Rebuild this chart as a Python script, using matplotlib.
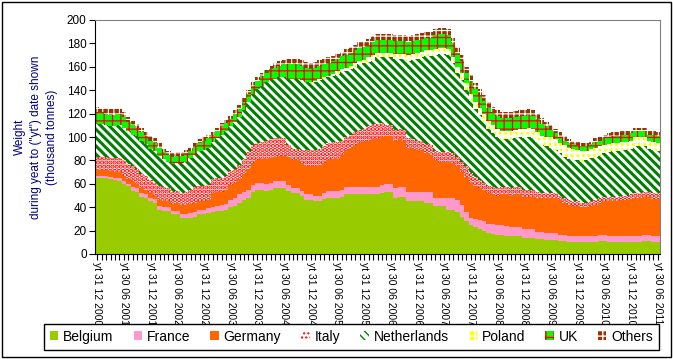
import numpy as np
import matplotlib.pyplot as plt
from matplotlib.patches import Rectangle

plt.rcParams['font.family'] = ['Liberation Sans', 'DejaVu Sans']

# Data: monthly "year to date" weights (thousand tonnes), Dec 2000 - Jun 2011
tick_labels = ['yt 31 12 2000', 'yt 30 06 2001', 'yt 31 12 2001', 'yt 30 06 2002',
               'yt 31 12 2002', 'yt 30 06 2003', 'yt 31 12 2003', 'yt 30 06 2004',
               'yt 31 12 2004', 'yt 30 06 2005', 'yt 31 12 2005', 'yt 30 06 2006',
               'yt 31 12 2006', 'yt 30 06 2007', 'yt 31 12 2007', 'yt 30 06 2008',
               'yt 31 12 2008', 'yt 30 06 2009', 'yt 31 12 2009', 'yt 30 06 2010',
               'yt 31 12 2010', 'yt 30 06 2011']

belgium = [65, 65, 65, 64, 63, 62, 60, 58, 54, 53,
           49, 48, 45, 44, 38, 37, 37, 34, 34, 31,
           31, 31, 32, 34, 34, 35, 36, 37, 37, 38,
           40, 41, 44, 46, 48, 53, 55, 55, 54, 55,
           56, 56, 56, 54, 52, 52, 50, 46, 46, 45,
           45, 47, 48, 48, 48, 49, 51, 51, 51, 51,
           51, 51, 51, 51, 52, 53, 53, 48, 49, 49,
           45, 45, 45, 45, 44, 44, 41, 41, 41, 38,
           38, 36, 32, 28, 25, 23, 21, 20, 18, 17,
           16, 16, 15, 15, 15, 15, 14, 14, 14, 13,
           13, 12, 12, 12, 11, 11, 10, 10, 10, 10,
           10, 10, 10, 11, 11, 10, 10, 10, 10, 10,
           10, 10, 10, 11, 11, 10, 10]
france = [2, 2, 2, 2, 2, 3, 2, 2, 3, 3,
          3, 3, 3, 3, 3, 3, 3, 3, 3, 3,
          3, 4, 4, 4, 4, 4, 4, 4, 5, 5,
          6, 7, 7, 7, 7, 6, 6, 6, 6, 6,
          6, 6, 6, 5, 4, 4, 4, 5, 5, 5,
          5, 5, 6, 6, 6, 6, 6, 6, 6, 6,
          6, 6, 6, 6, 7, 7, 7, 8, 8, 8,
          8, 8, 8, 8, 9, 9, 7, 7, 7, 10,
          10, 10, 10, 8, 6, 7, 8, 8, 8, 9,
          9, 9, 9, 8, 8, 8, 7, 7, 7, 6,
          6, 6, 6, 6, 5, 5, 5, 5, 5, 5,
          5, 5, 5, 5, 5, 5, 5, 5, 5, 5,
          5, 5, 5, 5, 5, 5, 5]
germany = [6, 5, 5, 5, 5, 5, 5, 4, 5, 4,
           4, 4, 4, 3, 5, 5, 5, 6, 7, 8,
           8, 8, 8, 7, 7, 7, 12, 12, 11, 12,
           13, 13, 13, 15, 18, 19, 19, 20, 21, 21,
           21, 22, 22, 24, 24, 24, 24, 24, 24, 25,
           26, 26, 26, 27, 27, 30, 32, 34, 36, 38,
           39, 40, 41, 41, 41, 41, 41, 41, 41, 40,
           38, 37, 36, 36, 33, 32, 32, 31, 31, 31,
           30, 29, 28, 30, 30, 28, 27, 27, 26, 25,
           25, 26, 27, 27, 28, 28, 28, 28, 28, 29,
           29, 30, 30, 30, 30, 28, 27, 26, 26, 25,
           25, 26, 27, 28, 29, 30, 30, 30, 31, 31,
           32, 33, 33, 33, 33, 32, 32]
italy = [10, 11, 11, 11, 12, 12, 13, 13, 13, 13,
         12, 12, 11, 11, 12, 12, 11, 10, 10, 10,
         11, 12, 13, 13, 13, 13, 12, 12, 12, 12,
         12, 12, 12, 13, 14, 15, 15, 15, 16, 16,
         16, 15, 15, 10, 10, 10, 11, 14, 14, 14,
         14, 14, 15, 15, 15, 12, 11, 11, 11, 11,
         11, 12, 13, 13, 12, 9, 9, 9, 9, 9,
         8, 8, 8, 8, 8, 8, 8, 8, 8, 8,
         8, 8, 9, 9, 8, 8, 7, 6, 6, 6,
         6, 6, 6, 6, 6, 6, 6, 6, 6, 5,
         4, 4, 4, 4, 4, 4, 4, 4, 4, 4,
         4, 4, 4, 4, 4, 4, 4, 4, 4, 4,
         4, 4, 4, 4, 4, 5, 5]
netherlands = [28, 28, 27, 27, 27, 28, 28, 28, 27, 28,
               29, 27, 27, 27, 26, 24, 23, 24, 24, 26,
               26, 27, 28, 30, 31, 32, 32, 34, 37, 38,
               38, 40, 41, 42, 43, 44, 46, 48, 50, 51,
               51, 52, 52, 57, 60, 60, 60, 58, 57, 58,
               59, 58, 56, 56, 58, 59, 56, 56, 56, 56,
               56, 55, 55, 57, 56, 58, 58, 61, 60, 61,
               66, 68, 70, 71, 75, 76, 82, 84, 84, 83,
               77, 72, 70, 65, 62, 58, 56, 52, 49, 46,
               44, 41, 41, 42, 42, 43, 44, 45, 44, 43,
               41, 40, 39, 37, 36, 35, 35, 35, 35, 35,
               36, 37, 37, 36, 37, 38, 39, 39, 39, 39,
               39, 40, 40, 39, 37, 37, 36]
poland = [0, 0, 0, 0, 0, 0, 0, 0, 0, 0,
          0, 0, 0, 0, 0, 0, 0, 0, 0, 0,
          0, 0, 0, 0, 0, 0, 0, 0, 0, 0,
          0, 0, 0, 0, 0, 0, 0, 0, 0, 0,
          0, 0, 0, 0, 0, 0, 0, 0, 1, 1,
          1, 1, 1, 2, 2, 2, 3, 3, 3, 3,
          3, 4, 4, 4, 4, 4, 4, 4, 4, 4,
          5, 5, 5, 5, 5, 5, 5, 5, 5, 5,
          5, 5, 6, 6, 6, 6, 6, 7, 7, 7,
          7, 7, 7, 7, 7, 7, 8, 8, 8, 8,
          8, 8, 9, 9, 9, 10, 10, 10, 9, 9,
          8, 8, 8, 8, 7, 7, 7, 7, 7, 7,
          7, 8, 8, 8, 7, 7, 7]
uk = [10, 10, 10, 10, 10, 10, 9, 8, 8, 7,
      7, 7, 7, 7, 7, 6, 6, 6, 6, 6,
      7, 6, 7, 7, 8, 8, 6, 6, 7, 7,
      6, 7, 7, 7, 7, 7, 7, 8, 8, 9,
      9, 10, 11, 12, 12, 12, 12, 12, 11, 11,
      11, 11, 11, 11, 11, 11, 11, 11, 11, 11,
      11, 11, 11, 11, 11, 11, 11, 11, 11, 11,
      11, 11, 11, 11, 11, 11, 12, 12, 12, 12,
      12, 12, 10, 9, 11, 11, 11, 11, 11, 11,
      11, 11, 11, 11, 11, 11, 11, 11, 11, 11,
      10, 9, 6, 5, 5, 4, 4, 4, 4, 4,
      4, 4, 5, 5, 6, 6, 6, 6, 6, 6,
      6, 5, 5, 5, 5, 6, 6]
others = [5, 4, 5, 5, 5, 5, 4, 4, 4, 3,
          4, 3, 4, 4, 4, 3, 3, 3, 3, 3,
          3, 3, 3, 3, 3, 3, 2, 3, 3, 3,
          3, 3, 3, 3, 3, 3, 3, 3, 3, 3,
          4, 4, 4, 5, 5, 5, 5, 5, 5, 5,
          5, 5, 5, 4, 4, 4, 5, 5, 5, 5,
          5, 5, 5, 5, 5, 5, 5, 5, 5, 5,
          5, 5, 5, 5, 5, 5, 5, 5, 5, 5,
          5, 5, 5, 5, 5, 5, 5, 5, 5, 5,
          5, 5, 5, 5, 5, 5, 5, 5, 5, 5,
          5, 4, 4, 4, 4, 4, 3, 3, 3, 3,
          3, 3, 3, 3, 3, 3, 3, 3, 3, 3,
          3, 3, 3, 3, 3, 3, 3]

names = ['Belgium', 'France', 'Germany', 'Italy', 'Netherlands', 'Poland', 'UK', 'Others']
series = [belgium, france, germany, italy, netherlands, poland, uk, others]

# (facecolor, hatch colour, hatch, hatch linewidth)
styles = [
    ('#99CC00', '#99CC00', None, 1.0),
    ('#FF99CC', '#FF99CC', None, 1.0),
    ('#FF6600', '#FF6600', None, 1.0),
    ('white', '#FF0000', '....', 2.2),
    ('white', '#008000', '\\\\\\\\', 2.2),
    ('#FFFF00', 'white', '+++', 2.0),
    ('#00FF00', '#FF0000', '++', 0.9),
    ('#993300', 'white', '+++', 0.8),
]

data = np.array(series, dtype=float)
tops = np.cumsum(data, axis=0)
bottoms = tops - data
n = data.shape[1]
edges = np.arange(n + 1) - 0.5

fig = plt.figure(figsize=(6.73, 3.59), dpi=100)
ax = fig.add_axes([95 / 673, 105 / 359, 565 / 673, 234 / 359])

handles = []
for name, top, bot, (fc, hc, hatch, hlw) in zip(names, tops, bottoms, styles):
    with plt.rc_context({'hatch.linewidth': hlw}):
        h = ax.stairs(top, edges, baseline=bot, fill=True, facecolor=fc,
                      edgecolor=hc, hatch=hatch, linewidth=0, label=name)
    if hasattr(h, 'set_hatch_linewidth'):
        h.set_hatch_linewidth(hlw)
    handles.append(h)

ax.set_xlim(-0.5, n - 0.5)
ax.set_ylim(0, 200)
ax.set_yticks(np.arange(0, 201, 20))
ax.set_xticks(np.arange(0, n, 6))
ax.set_xticklabels(tick_labels, rotation=270, fontsize=7.5)
ax.set_xticks(np.arange(n), minor=True)
ax.tick_params(axis='both', which='both', direction='out', length=4, width=0.8)
ax.tick_params(axis='y', labelsize=8.5, pad=2)
ax.tick_params(axis='x', pad=2)

for s in ['top', 'right']:
    ax.spines[s].set_color('#808080')
for s in ['left', 'bottom']:
    ax.spines[s].set_color('black')

fig.text(36 / 673, 0.618, 'Weight\nduring yeat to ("yt") date shown\n(thousand tonnes)',
         rotation=90, ha='center', va='center', multialignment='center',
         fontsize=8.5, color='#000080', linespacing=1.4)

fig.legend(handles, names, loc='lower center', bbox_to_anchor=(0.5223, 0.025),
           ncol=8, fontsize=10, frameon=True, fancybox=False, edgecolor='black',
           framealpha=1, handlelength=0.6, handleheight=0.6, handletextpad=0.35,
           columnspacing=1.45, borderpad=0.45, borderaxespad=0)

fig.patches.append(Rectangle((1.5 / 673, 2.5 / 359), 669 / 673, 355 / 359,
                             transform=fig.transFigure, fill=False,
                             edgecolor='black', linewidth=1))

fig.savefig('out.png', dpi=100)
